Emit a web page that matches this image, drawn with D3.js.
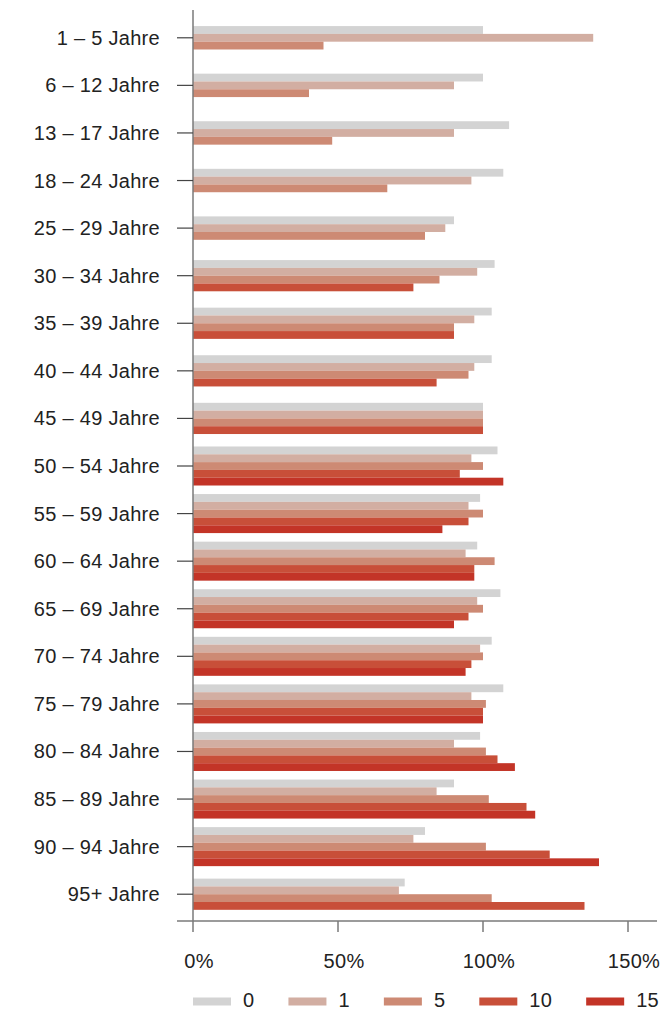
<!DOCTYPE html>
<html>
<head>
<meta charset="utf-8">
<script src="https://cdn.jsdelivr.net/npm/d3@7"></script>
<style>
  html, body { margin: 0; padding: 0; background: #fff; }
  svg { display: block; font-family: "Liberation Sans", Arial, Helvetica, sans-serif; }
</style>
</head>
<body>
<svg id="chart" width="666" height="1010"></svg>
<script>
// Age groups (rows)
const categories = [
  "1 – 5 Jahre", "6 – 12 Jahre", "13 – 17 Jahre", "18 – 24 Jahre", "25 – 29 Jahre",
  "30 – 34 Jahre", "35 – 39 Jahre", "40 – 44 Jahre", "45 – 49 Jahre", "50 – 54 Jahre",
  "55 – 59 Jahre", "60 – 64 Jahre", "65 – 69 Jahre", "70 – 74 Jahre", "75 – 79 Jahre",
  "80 – 84 Jahre", "85 – 89 Jahre", "90 – 94 Jahre", "95+ Jahre"
];

// Series names and colours
const seriesNames = ["0", "1", "5", "10", "15"];
const seriesColors = ["#d3d3d3", "#d2aea2", "#cd8a74", "#c84f39", "#c33427"];

// Values in percent per series (null = no bar)
const s0  = [100, 100, 109, 107, 90, 104, 103, 103, 100, 105, 99, 98, 106, 103, 107, 99, 90, 80, 73];
const s1  = [138, 90, 90, 96, 87, 98, 97, 97, 100, 96, 95, 94, 98, 99, 96, 90, 84, 76, 71];
const s5  = [45, 40, 48, 67, 80, 85, 90, 95, 100, 100, 100, 104, 100, 100, 101, 101, 102, 101, 103];
const s10 = [null, null, null, null, null, 76, 90, 84, 100, 92, 95, 97, 95, 96, 100, 105, 115, 123, 135];
const s15 = [null, null, null, null, null, null, null, null, null, 107, 86, 97, 90, 94, 100, 111, 118, 140, null];

// Axis ticks
const tickValues = [0, 50, 100, 150];
const tickLabels = ["0%", "50%", "100%", "150%"];

const seriesValues = [s0, s1, s5, s10, s15];

const svg = d3.select("#chart");
const textColor = "#222";
const axisColor = "#7a7a7a";
const fontSize = 20;
const spacing = "0.3px";

const x = d3.scaleLinear().domain([0, 150]).range([193, 628]);
const y = d3.scaleBand().domain(categories).range([14, 918]).padding(0);
const barH = y.step() * 0.164;

// Bars: within each row only the series with a value are stacked, centred on the row
const rows = categories.map((cat, i) => {
  const present = seriesNames
    .map((name, k) => ({ name, k, value: seriesValues[k][i] }))
    .filter(d => d.value !== null);
  const c = y(cat) + y.bandwidth() / 2;
  const inner = d3.scaleBand()
    .domain(present.map(d => d.name))
    .range([c - present.length * barH / 2, c + present.length * barH / 2])
    .padding(0);
  return present.map(d => ({ ...d, cat, y: inner(d.name), h: inner.bandwidth() }));
});

svg.append("g").attr("class", "bars")
  .selectAll("g").data(rows).join("g")
  .selectAll("rect").data(d => d).join("rect")
    .attr("x", x(0))
    .attr("y", d => d.y)
    .attr("width", d => x(d.value) - x(0))
    .attr("height", d => d.h)
    .attr("fill", d => seriesColors[d.k]);

// Category axis
const yAxis = svg.append("g").attr("class", "y-axis");
yAxis.append("line")
  .attr("x1", x(0)).attr("x2", x(0))
  .attr("y1", 10).attr("y2", 921)
  .attr("stroke", axisColor).attr("stroke-width", 1.5);
const yTicks = yAxis.selectAll("g.tick").data(categories).join("g")
  .attr("class", "tick")
  .attr("transform", d => `translate(0,${y(d) + y.bandwidth() / 2})`);
yTicks.append("line")
  .attr("x1", 177).attr("x2", x(0))
  .attr("stroke", "#444").attr("stroke-width", 1.2);
yTicks.append("text")
  .attr("x", 160)
  .attr("dy", "0.35em")
  .attr("text-anchor", "end")
  .attr("fill", textColor)
  .attr("font-size", fontSize)
  .attr("letter-spacing", spacing)
  .text(d => d);

// Value axis
const xAxis = svg.append("g").attr("class", "x-axis");
xAxis.append("line")
  .attr("x1", 177).attr("x2", 657)
  .attr("y1", 921).attr("y2", 921)
  .attr("stroke", axisColor).attr("stroke-width", 1.5);
const xTicks = xAxis.selectAll("g.tick").data(tickValues).join("g")
  .attr("class", "tick")
  .attr("transform", d => `translate(${x(d)},0)`);
xTicks.append("line")
  .attr("y1", 921).attr("y2", 932)
  .attr("stroke", axisColor).attr("stroke-width", 1.5);
xTicks.append("text")
  .attr("x", 6)
  .attr("y", 968)
  .attr("text-anchor", "middle")
  .attr("fill", textColor)
  .attr("font-size", fontSize)
  .attr("letter-spacing", spacing)
  .text((d, i) => tickLabels[i]);

// Legend
const legend = svg.append("g").attr("class", "legend");
let lx = 193;
seriesNames.forEach((name, k) => {
  const g = legend.append("g").attr("transform", `translate(${lx},0)`);
  g.append("rect")
    .attr("x", 0).attr("y", 997.5)
    .attr("width", 38).attr("height", 8)
    .attr("fill", seriesColors[k]);
  const t = g.append("text")
    .attr("x", 50).attr("y", 1007)
    .attr("fill", textColor)
    .attr("font-size", fontSize)
    .attr("letter-spacing", spacing)
    .text(name);
  lx += 50 + t.node().getComputedTextLength() + 34;
});
</script>
</body>
</html>
